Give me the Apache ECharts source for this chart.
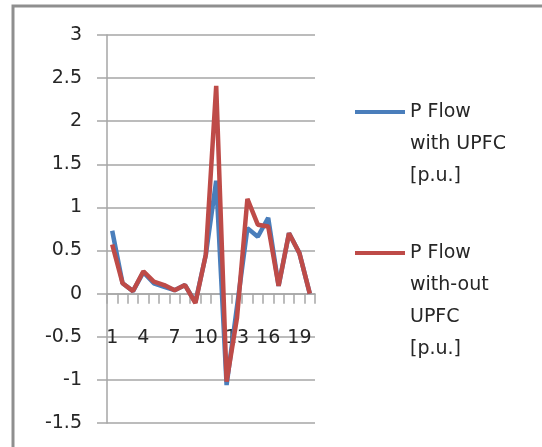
<!DOCTYPE html>
<html>
<head>
<meta charset="utf-8">
<script src="https://cdn.jsdelivr.net/npm/echarts@6/dist/echarts.min.js"></script>
<style>
  html, body { margin: 0; padding: 0; background: #ffffff; }
  #chart { width: 542px; height: 447px; }
</style>
</head>
<body>
<div id="chart"></div>
<script>
// Bus / line index
var categories = ['1','2','3','4','5','6','7','8','9','10','11','12','13','14','15','16','17','18','19','20'];
// Active power flow with UPFC installed [p.u.]
var withUpfc = [0.73, 0.12, 0.03, 0.25, 0.12, 0.08, 0.04, 0.10, -0.10, 0.45, 1.31, -1.06, -0.15, 0.76, 0.66, 0.88, 0.09, 0.70, 0.47, 0.0];
// Active power flow without UPFC [p.u.]
var withoutUpfc = [0.57, 0.12, 0.03, 0.26, 0.14, 0.10, 0.04, 0.10, -0.11, 0.45, 2.41, -1.02, -0.28, 1.10, 0.80, 0.78, 0.09, 0.70, 0.47, 0.0];
var seriesNames = ['P Flow\nwith UPFC\n[p.u.]', 'P Flow\nwith-out\nUPFC\n[p.u.]'];

var FONT = '"DejaVu Sans", sans-serif';
var FS = 19;
var TEXT = '#262626';
var GRID = '#a6a6a6';

var chart = echarts.init(document.getElementById('chart'), null, { renderer: 'canvas' });

// Legend labels are padded with leading blank lines so the swatch lines up with the first text line
function padFirst(name) {
  var n = name.split('\n').length;
  return new Array(n).join('\n') + name;
}

var legendText = { fontFamily: FONT, fontSize: FS, color: TEXT, lineHeight: 32 };

chart.setOption({
  animation: false,
  backgroundColor: '#ffffff',
  graphic: [{
    type: 'rect',
    shape: { x: 13, y: 6, width: 560, height: 480 },
    style: { fill: 'none', stroke: '#8f8f8f', lineWidth: 3 },
    silent: true, z: 100
  }],
  grid: { left: 107, top: 35, width: 208, height: 388, containLabel: false, outerBoundsMode: 'none' },
  legend: [
    {
      data: [seriesNames[0]], orient: 'vertical', left: 355, top: 32, padding: 0,
      icon: 'rect', itemWidth: 50, itemHeight: 4, textStyle: legendText,
      formatter: padFirst, selectedMode: false
    },
    {
      data: [seriesNames[1]], orient: 'vertical', left: 355, top: 141, padding: 0,
      icon: 'rect', itemWidth: 50, itemHeight: 4, textStyle: legendText,
      formatter: padFirst, selectedMode: false
    }
  ],
  xAxis: {
    type: 'category',
    data: categories,
    boundaryGap: true,
    axisLine: { onZero: true, lineStyle: { color: GRID, width: 1.5 } },
    axisTick: { show: true, interval: 0, length: 10, inside: false, lineStyle: { color: GRID, width: 1.5 } },
    axisLabel: { interval: 2, margin: -94, fontFamily: FONT, fontSize: FS, color: TEXT, hideOverlap: false },
    splitLine: { show: false }
  },
  yAxis: {
    type: 'value',
    min: -1.5, max: 3, interval: 0.5,
    axisLine: { show: true, lineStyle: { color: GRID, width: 1.5 } },
    axisTick: { show: true, length: 10, lineStyle: { color: GRID, width: 1.5 } },
    axisLabel: { margin: 25, fontFamily: FONT, fontSize: FS, color: TEXT },
    splitLine: { show: true, lineStyle: { color: GRID, width: 1.5 } }
  },
  series: [
    {
      name: seriesNames[0], type: 'line', data: withUpfc,
      symbol: 'none', smooth: false,
      lineStyle: { color: '#4a7ebb', width: 4.5 }, itemStyle: { color: '#4a7ebb' }, z: 2
    },
    {
      name: seriesNames[1], type: 'line', data: withoutUpfc,
      symbol: 'none', smooth: false,
      lineStyle: { color: '#be4b48', width: 4.5 }, itemStyle: { color: '#be4b48' }, z: 3
    }
  ]
});
</script>
</body>
</html>
